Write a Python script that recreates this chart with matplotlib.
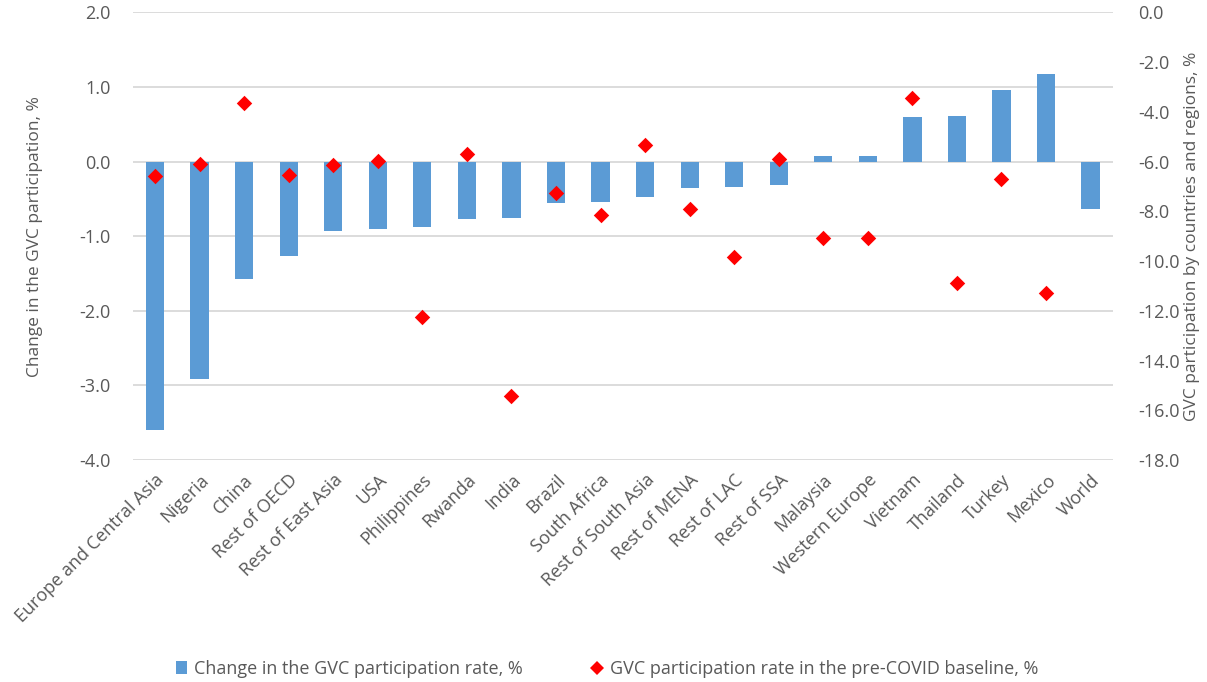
import matplotlib
matplotlib.use("Agg")
import matplotlib.pyplot as plt
from matplotlib.lines import Line2D
from matplotlib.patches import Patch

plt.rcParams['font.family'] = ['Open Sans', 'DejaVu Sans']

regions = ["Europe and Central Asia", "Nigeria", "China", "Rest of OECD",
           "Rest of East Asia", "USA", "Philippines", "Rwanda", "India", "Brazil",
           "South Africa", "Rest of South Asia", "Rest of MENA", "Rest of LAC",
           "Rest of SSA", "Malaysia", "Western Europe", "Vietnam", "Thailand",
           "Turkey", "Mexico", "World"]

change_rate = [-3.60, -2.92, -1.58, -1.27, -0.93, -0.90, -0.88, -0.77, -0.76,
               -0.56, -0.54, -0.47, -0.35, -0.34, -0.32, 0.07, 0.08, 0.60,
               0.61, 0.96, 1.17, -0.63]

baseline_rate = [-6.59, -6.09, -3.66, -6.56, -6.13, -5.99, -12.27, -5.68,
                 -15.41, -7.26, -8.17, -5.32, -7.89, -9.82, -5.91, -9.06,
                 -9.06, -3.46, -10.88, -6.70, -11.27, None]

left_ticks = [2.0, 1.0, 0.0, -1.0, -2.0, -3.0, -4.0]
right_ticks = [0.0, -2.0, -4.0, -6.0, -8.0, -10.0, -12.0, -14.0, -16.0, -18.0]

bar_color = "#5b9bd5"
dot_color = "#ff0000"
text_color = "#595959"
grid_color = "#d9d9d9"
fs = 13

fig = plt.figure(figsize=(12.07, 6.82), dpi=100)
ax = fig.add_axes([0.110, 0.3255, 0.812, 0.6565])
ax2 = ax.twinx()

x = list(range(len(regions)))
ax.bar(x, change_rate, width=0.41, color=bar_color, zorder=2)

px = [i for i, v in zip(x, baseline_rate) if v is not None]
py = [v for v in baseline_rate if v is not None]
ax2.scatter(px, py, marker="D", s=62, color=dot_color, zorder=3, linewidths=0)

ax.set_xlim(-0.5, len(regions) - 0.5)
ax.set_ylim(-4.0, 2.0)
ax2.set_ylim(-18.0, 0.0)
ax.set_yticks(left_ticks)
ax.set_yticklabels([f"{t:.1f}" for t in left_ticks])
ax2.set_yticks(right_ticks)
ax2.set_yticklabels([f"{t:.1f}" for t in right_ticks])

ax.yaxis.grid(True, color=grid_color, linewidth=1.3, zorder=0)
ax.set_axisbelow(True)

for a in (ax, ax2):
    for s in a.spines.values():
        s.set_visible(False)
    a.tick_params(axis="both", length=0, labelsize=fs, labelcolor=text_color)

ax.tick_params(axis="y", pad=16)
ax2.tick_params(axis="y", pad=18)

ax.set_xticks(x)
ax.set_xticklabels(regions, rotation=45, ha="right", rotation_mode="anchor",
                   fontsize=fs, color=text_color)
ax.tick_params(axis="x", pad=8)

ax.set_ylabel("Change in the GVC participation, %", fontsize=12.5,
              color=text_color, labelpad=26)
ax2.set_ylabel("GVC participation by countries and regions, %", fontsize=12.5,
               color=text_color, rotation=90, labelpad=3)

handles = [
    Patch(facecolor=bar_color, edgecolor="none"),
    Line2D([], [], marker="D", linestyle="none", color=dot_color,
           markersize=7, markeredgewidth=0),
]
labels = ["Change in the GVC participation rate, %",
          "GVC participation rate in the pre-COVID baseline, %"]
fig.legend(handles, labels, loc="center", bbox_to_anchor=(0.503, 0.019),
           ncol=2, frameon=False, fontsize=fs, labelcolor=text_color,
           handlelength=0.6, handletextpad=0.4, columnspacing=3.8)

fig.savefig("out.png", dpi=100)
